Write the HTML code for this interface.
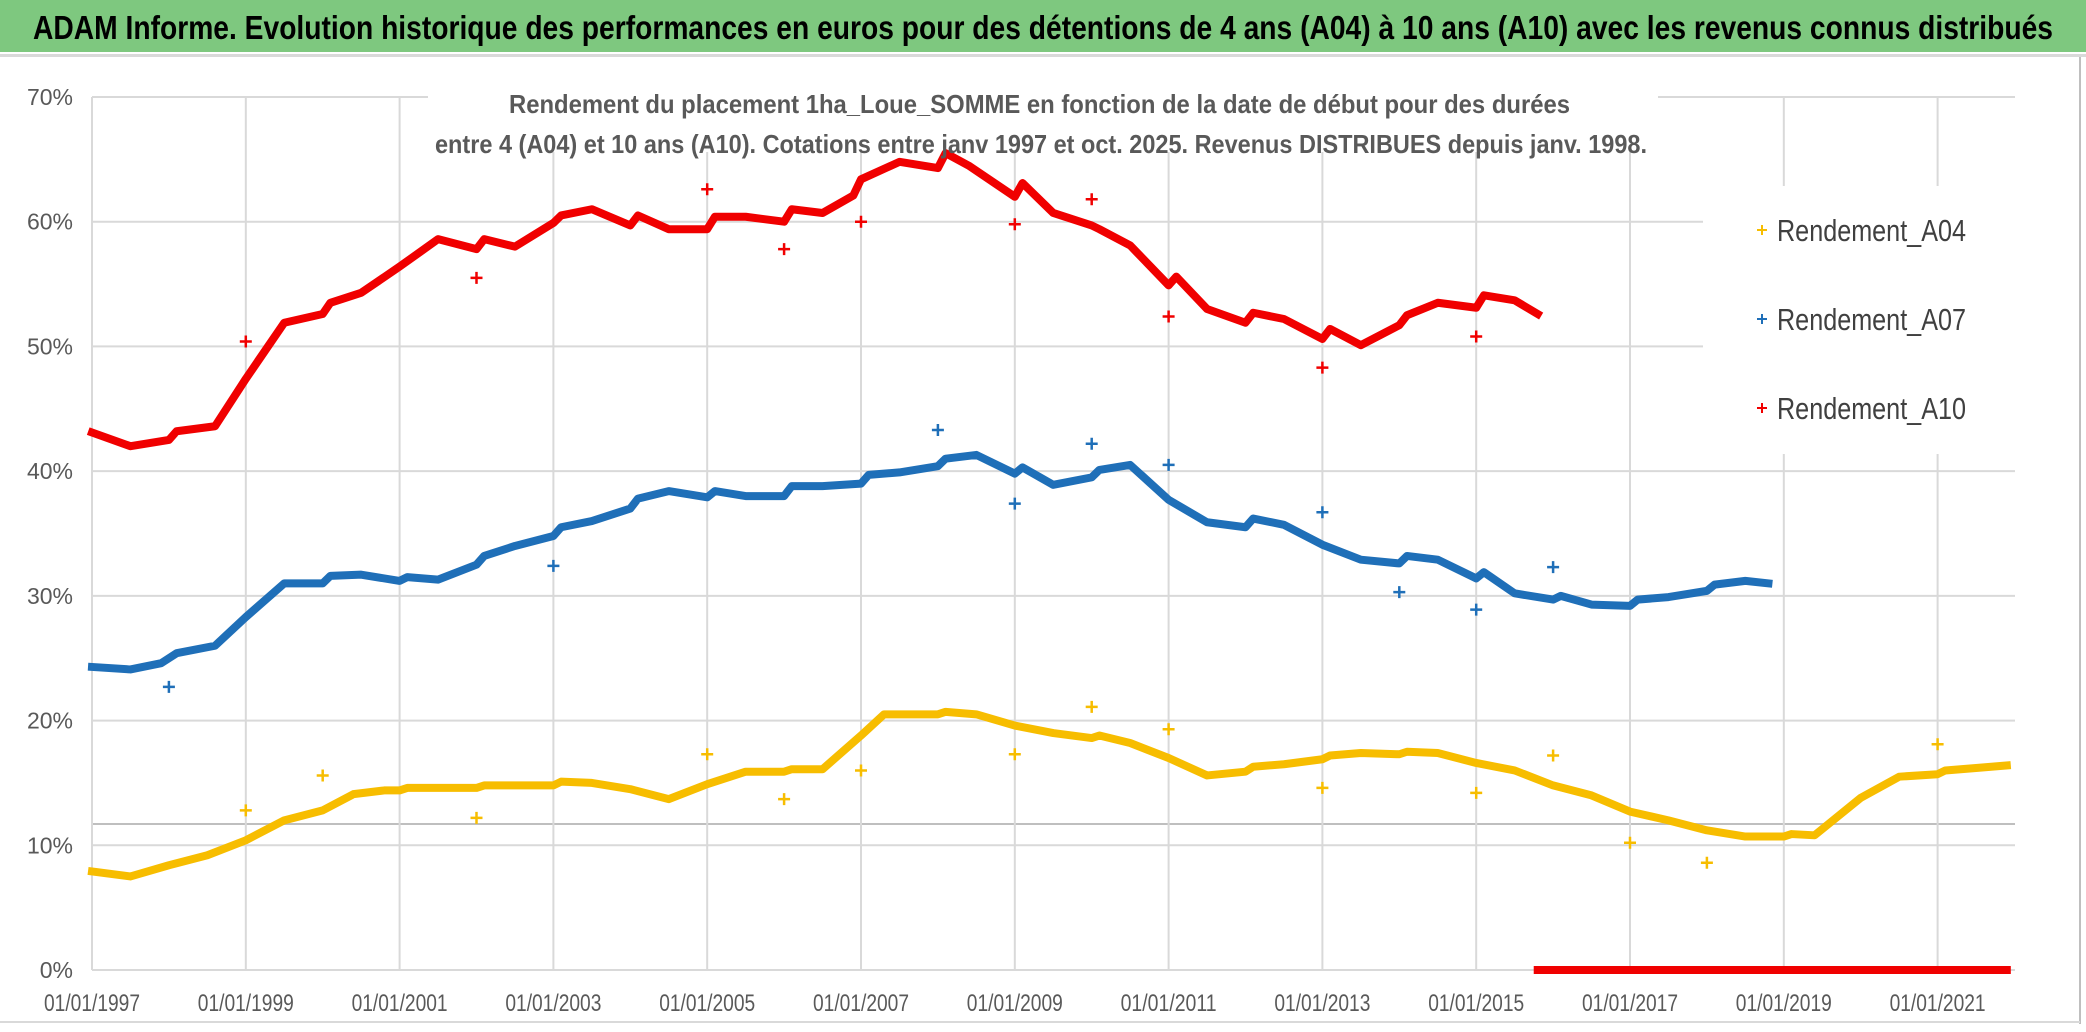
<!DOCTYPE html>
<html><head><meta charset="utf-8"><style>
html,body{margin:0;padding:0;background:#fff;}
svg{display:block;font-family:"Liberation Sans Narrow","Liberation Sans",sans-serif;}
</style></head><body>
<svg id="chart" width="2086" height="1032" viewBox="0 0 2086 1032" xmlns="http://www.w3.org/2000/svg">
<rect x="0" y="0" width="2086" height="1032" fill="#fff"/>
<rect x="0" y="0" width="2086" height="52" fill="#7ec87f"/>
<rect x="0" y="54" width="2086" height="3" fill="#d9d9d9"/>
<text x="33" y="39" font-size="33" font-weight="bold" fill="#000" textLength="2020" lengthAdjust="spacingAndGlyphs">ADAM Informe. Evolution historique des performances en euros pour des détentions de 4 ans (A04) à 10 ans (A10) avec les revenus connus distribués</text>
<g id="grid"></g>
<g id="axes"></g>
<rect x="428" y="80" width="1230" height="72" fill="#fff"/>
<g id="series"></g>
<text x="509" y="113" font-size="26" font-weight="bold" fill="#595959" textLength="1061" lengthAdjust="spacingAndGlyphs">Rendement du placement 1ha_Loue_SOMME en fonction de la date de début pour des durées</text>
<text x="435" y="153" font-size="26" font-weight="bold" fill="#595959" textLength="1212" lengthAdjust="spacingAndGlyphs">entre 4 (A04) et 10 ans (A10). Cotations entre janv 1997 et oct. 2025. Revenus DISTRIBUES depuis janv. 1998.</text>
<g id="legend">
<rect x="1703" y="186" width="312" height="268" fill="#fff"/>
</g>
<line x1="2080" y1="57" x2="2080" y2="1024" stroke="#bfbfbf" stroke-width="2"/>
<line x1="0" y1="1022" x2="2080" y2="1022" stroke="#d9d9d9" stroke-width="2"/>
</svg>
<script>
const yTicks=[0,10,20,30,40,50,60,70];
const yTickLabels=["0%","10%","20%","30%","40%","50%","60%","70%"];
const xTicks=[1997,1999,2001,2003,2005,2007,2009,2011,2013,2015,2017,2019,2021];
const xTickLabels=["01/01/1997","01/01/1999","01/01/2001","01/01/2003","01/01/2005","01/01/2007","01/01/2009","01/01/2011","01/01/2013","01/01/2015","01/01/2017","01/01/2019","01/01/2021"];
const a04Dates=[1997.0,1997.5,1998.0,1998.5,1999.0,1999.5,2000.0,2000.4,2000.8,2001.0,2001.1,2002.0,2002.1,2003.0,2003.1,2003.5,2004.0,2004.5,2005.0,2005.5,2006.0,2006.1,2006.5,2007.0,2007.3,2008.0,2008.1,2008.5,2009.0,2009.5,2010.0,2010.1,2010.5,2011.0,2011.5,2012.0,2012.1,2012.5,2013.0,2013.1,2013.5,2014.0,2014.1,2014.5,2015.0,2015.5,2016.0,2016.5,2017.0,2017.5,2018.0,2018.5,2019.0,2019.1,2019.4,2020.0,2020.5,2021.0,2021.1,2021.5,2021.9];
const a04Values=[7.9,7.5,8.4,9.2,10.4,12.0,12.8,14.1,14.4,14.4,14.6,14.6,14.8,14.8,15.1,15.0,14.5,13.7,14.9,15.9,15.9,16.1,16.1,18.8,20.5,20.5,20.7,20.5,19.6,19.0,18.6,18.8,18.2,17.0,15.6,15.9,16.3,16.5,16.9,17.2,17.4,17.3,17.5,17.4,16.6,16.0,14.8,14.0,12.7,12.0,11.2,10.7,10.7,10.9,10.8,13.8,15.5,15.7,16.0,16.2,16.4];
const a04OutDates=[1999,2000,2002,2005,2006,2007,2009,2010,2011,2013,2015,2016,2017,2018,2021];
const a04OutValues=[12.8,15.6,12.2,17.3,13.7,16.0,17.3,21.1,19.3,14.6,14.2,17.2,10.2,8.6,18.1];
const a07Dates=[1997.0,1997.5,1997.9,1998.1,1998.6,1999.0,1999.5,2000.0,2000.1,2000.5,2001.0,2001.1,2001.5,2002.0,2002.1,2002.5,2003.0,2003.1,2003.5,2004.0,2004.1,2004.5,2005.0,2005.1,2005.5,2006.0,2006.1,2006.5,2007.0,2007.1,2007.5,2008.0,2008.1,2008.5,2009.0,2009.1,2009.5,2010.0,2010.1,2010.5,2011.0,2011.5,2012.0,2012.1,2012.5,2013.0,2013.5,2014.0,2014.1,2014.5,2015.0,2015.1,2015.5,2016.0,2016.1,2016.5,2017.0,2017.1,2017.5,2018.0,2018.1,2018.5,2018.8];
const a07Values=[24.3,24.1,24.6,25.4,26.0,28.3,31.0,31.0,31.6,31.7,31.2,31.5,31.3,32.5,33.2,34.0,34.8,35.5,36.0,37.0,37.8,38.4,37.9,38.4,38.0,38.0,38.8,38.8,39.0,39.7,39.9,40.4,41.0,41.3,39.8,40.3,38.9,39.5,40.1,40.5,37.7,35.9,35.5,36.2,35.7,34.1,32.9,32.6,33.2,32.9,31.4,31.9,30.2,29.7,30.0,29.3,29.2,29.7,29.9,30.4,30.9,31.2,31.0];
const a07OutDates=[1998,2003,2008,2009,2010,2011,2013,2014,2015,2016];
const a07OutValues=[22.7,32.4,43.3,37.4,42.2,40.5,36.7,30.3,28.9,32.3];
const a10Dates=[1997.0,1997.5,1998.0,1998.1,1998.6,1999.0,1999.5,2000.0,2000.1,2000.5,2001.0,2001.5,2002.0,2002.1,2002.5,2003.0,2003.1,2003.5,2004.0,2004.1,2004.5,2005.0,2005.1,2005.5,2006.0,2006.1,2006.5,2006.9,2007.0,2007.5,2008.0,2008.1,2008.4,2009.0,2009.1,2009.5,2010.0,2010.1,2010.5,2011.0,2011.1,2011.5,2012.0,2012.1,2012.5,2013.0,2013.1,2013.5,2014.0,2014.1,2014.5,2015.0,2015.1,2015.5,2015.8];
const a10Values=[43.1,42.0,42.5,43.2,43.6,47.4,51.9,52.6,53.5,54.3,56.4,58.6,57.8,58.6,58.0,59.9,60.5,61.0,59.7,60.5,59.4,59.4,60.4,60.4,60.0,61.0,60.7,62.1,63.4,64.8,64.3,65.5,64.5,62.0,63.1,60.7,59.7,59.4,58.1,54.9,55.6,53.0,51.9,52.7,52.2,50.6,51.4,50.1,51.7,52.5,53.5,53.1,54.1,53.7,52.6];
const a10OutDates=[1999,2002,2005,2006,2007,2009,2010,2011,2013,2015];
const a10OutValues=[50.4,55.5,62.6,57.8,60.0,59.8,61.8,52.4,48.3,50.8];
const a10ZeroDates=[2015.8,2021.9];
const a10ZeroValues=[0,0];

const NS="http://www.w3.org/2000/svg";
const L=92,R=2015,Y0=970,Y70=97;
function xs(d){return L+(d-1997)*76.9;}
function ys(v){return Y0-(v/70)*(Y0-Y70);}
function mk(tag,attrs,parent){const e=document.createElementNS(NS,tag);for(const k in attrs)e.setAttribute(k,attrs[k]);parent.appendChild(e);return e;}
const grid=document.getElementById('grid'),axes=document.getElementById('axes'),ser=document.getElementById('series'),leg=document.getElementById('legend');
yTicks.forEach((t,i)=>{
  const ln=mk('line',{x1:L,x2:R,y1:ys(t),y2:ys(t),stroke:'#d9d9d9','stroke-width':2},grid);
  
  
  const tx=mk('text',{x:73,y:ys(t)+8,'font-size':23,fill:'#595959','text-anchor':'end'},axes);
  tx.textContent=yTickLabels[i];
  
  
});
const extra=mk('line',{x1:L,x2:R,y1:824,y2:824,stroke:'#bfbfbf','stroke-width':2},grid);


xTicks.forEach((t,i)=>{
  const ln=mk('line',{x1:xs(t),x2:xs(t),y1:Y70,y2:Y0,stroke:'#d9d9d9','stroke-width':2},grid);
  
  
  const tx=mk('text',{x:xs(t),y:1011,'font-size':24,fill:'#595959','text-anchor':'middle',textLength:96,lengthAdjust:'spacingAndGlyphs'},axes);
  tx.textContent=xTickLabels[i];
  
  
});
function line(dates,vals,color,name){
  const p=mk('polyline',{points:dates.map((d,i)=>xs(d)+','+ys(vals[i])).join(' '),fill:'none',stroke:color,'stroke-width':8,'stroke-linejoin':'round','stroke-linecap':'square'},ser);
  
  
}
function outs(dates,vals,color,name){
  dates.forEach((d,i)=>{
    const x=xs(d),y=ys(vals[i]);
    const p=mk('path',{d:`M${x-6},${y}H${x+6}M${x},${y-6}V${y+6}`,stroke:color,'stroke-width':2.5},ser);
    
    
  });
}
line(a04Dates,a04Values,'#f7bd00','series-a04-line');
line(a07Dates,a07Values,'#1f6fb8','series-a07-line');
line(a10Dates,a10Values,'#f00000','series-a10-line');
line(a10ZeroDates,a10ZeroValues,'#f00000','series-a10-zero-line');
outs(a04OutDates,a04OutValues,'#f7bd00','series-a04-point');
outs(a07OutDates,a07OutValues,'#1f6fb8','series-a07-point');
outs(a10OutDates,a10OutValues,'#f00000','series-a10-point');
const legNames=["Rendement_A04","Rendement_A07","Rendement_A10"];
const legColors=["#f7bd00","#1f6fb8","#f00000"];
legNames.forEach((n,i)=>{
  const y=230+i*89;
  const p=mk('path',{d:`M1757,${y}H1767M1762,${y-5}V${y+5}`,stroke:legColors[i],'stroke-width':2},leg);
  
  
  const t=mk('text',{x:1777,y:y+11,'font-size':31,fill:'#404040',textLength:189,lengthAdjust:'spacingAndGlyphs'},leg);
  t.textContent=n;
  
  
});
</script>
</body></html>
